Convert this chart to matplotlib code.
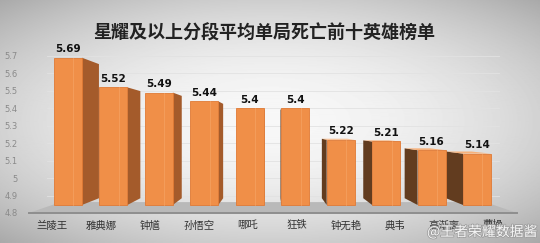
import numpy as np
import matplotlib
matplotlib.use('Agg')
import matplotlib.pyplot as plt
from matplotlib.patches import Polygon
import matplotlib.patheffects as pe
import matplotlib.transforms as mtransforms

plt.rcParams['font.family'] = ['Noto Sans CJK SC', 'DejaVu Sans']

# data
heroes = ['兰陵王', '雅典娜', '钟馗', '孙悟空', '哪吒', '狂铁', '钟无艳', '典韦', '高渐离', '曹操']
deaths = [5.69, 5.52, 5.49, 5.44, 5.4, 5.4, 5.22, 5.21, 5.16, 5.14]
value_text = ['5.69', '5.52', '5.49', '5.44', '5.4', '5.4', '5.22', '5.21', '5.16', '5.14']
yticks = [4.8, 4.9, 5.0, 5.1, 5.2, 5.3, 5.4, 5.5, 5.6, 5.7]
ytick_text = ['4.8', '4.9', '5', '5.1', '5.2', '5.3', '5.4', '5.5', '5.6', '5.7']
title = '星耀及以上分段平均单局死亡前十英雄榜单'

# fake 3d settings
VX, VY = 4.5, 5.28     # vanishing point (data coords)
DEPTH = 0.089          # how far faces recede toward the vp
BAR_W = 0.616
BASE = 4.846
X0, X1 = -0.858, 9.88
Y0, Y1 = 4.8, 5.75

FRONT = '#f08f48'
SIDE_L = '#a45b2b'
SIDE_R = '#623c1f'
TOP = '#f7b17a'


def back(x, y, f=DEPTH):
    return x + f * (VX - x), y + f * (VY - y)


fig = plt.figure(figsize=(5.4, 2.43), dpi=100)

# background vignette
bg = fig.add_axes([0, 0, 1, 1])
yy, xx = np.mgrid[-1:1:243j, -1:1:540j]
r = np.sqrt((xx * 0.85) ** 2 + (yy * 0.9) ** 2)
bg.imshow(0.97 - 0.2 * np.clip(r, 0, 1.3) ** 2, cmap='gray', vmin=0, vmax=1,
          aspect='auto', extent=[0, 1, 0, 1])
bg.axis('off')

ax = fig.add_axes([29 / 540, 0.1235, 488 / 540, 0.682])
ax.set_xlim(X0, X1)
ax.set_ylim(Y0, Y1)
ax.patch.set_visible(False)
for s in ax.spines.values():
    s.set_visible(False)

# faint back-wall grid
for t in yticks[1:]:
    ax.plot([X0 + 0.4, X1 - 0.4], [t, t], color='#e2e2e2', lw=0.6, zorder=0)

# floor
g = 0.13
bl = back(X0, Y0, g)
br = back(X1, Y0, g)
ax.add_patch(Polygon([(X0, Y0), (X1, Y0), br, bl], closed=True,
                     facecolor='#b9b9b9', edgecolor='none', zorder=1))
ax.plot([X0, X1], [Y0, Y0], color='#8e8e8e', lw=1.4, zorder=1, clip_on=False)

for i, v in enumerate(deaths):
    x0, x1 = i - BAR_W / 2, i + BAR_W / 2
    # side face
    if x1 < VX:
        ex, col = x1, SIDE_L
    elif x0 > VX:
        ex, col = x0, SIDE_R
    else:
        ex = None
    if ex is not None:
        bt = back(ex, v)
        bb = back(ex, BASE)
        ax.add_patch(Polygon([(ex, BASE), (ex, v), bt, bb], closed=True,
                             facecolor=col, edgecolor='none', zorder=2))
    # top face (only seen when below eye level)
    if v < VY:
        ax.add_patch(Polygon([(x0, v), (x1, v), back(x1, v), back(x0, v)],
                             closed=True, facecolor=TOP, edgecolor='none', zorder=2))
    ax.add_patch(Polygon([(x0, BASE), (x1, BASE), (x1, v), (x0, v)], closed=True,
                         facecolor=FRONT, edgecolor='#e07a35', lw=0.6, zorder=3))
    ax.plot([i + 0.12, i + 0.12], [BASE, v], color='#f5a263', lw=0.5, zorder=3)
    ax.text(i, v + 0.02, value_text[i], ha='center', va='bottom', fontsize=7.5,
            fontweight='bold', color='#111111', family='DejaVu Sans', zorder=4)

# x labels spread out on the floor front edge
trans = mtransforms.blended_transform_factory(ax.transData, ax.transAxes)
for i, name in enumerate(heroes):
    ax.text(VX + (i - VX) * 1.077, -0.075, name, transform=trans, ha='center',
            va='center', fontsize=7.5, color='#333333')

ax.set_xticks([])
ax.set_yticks(yticks)
ax.set_yticklabels(ytick_text, fontsize=6, color='#8a8a8a', family='DejaVu Sans')
ax.tick_params(axis='y', length=0, pad=8)

fig.text(0.489, 0.864, title, ha='center', va='center', fontsize=13,
         fontweight='bold', color='#222222')

# watermark
fig.text(0.995, 0.045, '@王者荣耀数据酱', ha='right', va='center', fontsize=10,
         color='white', alpha=0.9,
         path_effects=[pe.withStroke(linewidth=1.2, foreground='#9a9a9a')])

fig.savefig('out.png', dpi=100)
